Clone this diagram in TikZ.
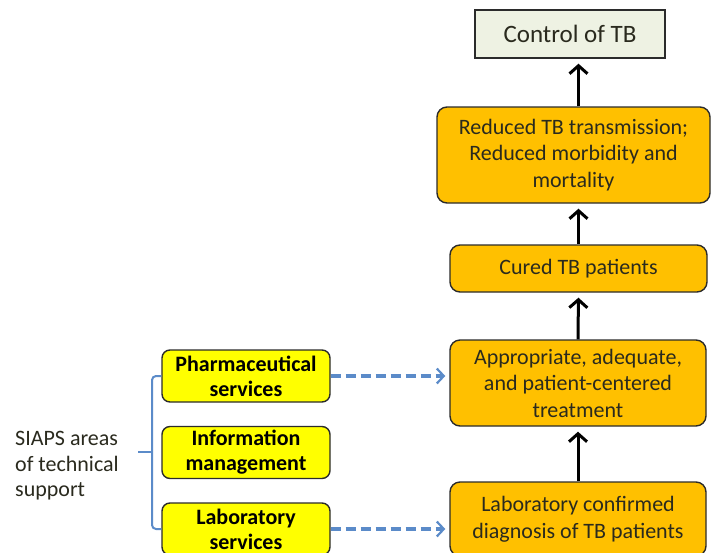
\documentclass[tikz,border=0pt]{standalone}
\usepackage{fontspec}
\setmainfont{Carlito}
\usetikzlibrary{arrows.meta}
\definecolor{orangebox}{HTML}{FFC000}
\definecolor{yellowbox}{HTML}{FFFF00}
\definecolor{goalfill}{HTML}{EEF2E3}
\definecolor{linkblue}{HTML}{5B8BC9}
\definecolor{edgegray}{HTML}{2B2B2B}
\definecolor{textdark}{HTML}{2A2A1E}
\tikzset{
  outcome/.style={draw=edgegray, line width=1.4pt, fill=orangebox, rounded corners=10pt,
    align=center, text=textdark, font=\fontsize{22}{26.5}\selectfont, inner sep=0pt},
  service/.style={draw=edgegray, line width=1.4pt, fill=yellowbox, rounded corners=8pt,
    align=center, text=black, font=\fontsize{22}{25}\selectfont\bfseries, inner sep=0pt,
    minimum width=168pt, minimum height=52pt},
  goal/.style={draw=edgegray, line width=1.4pt, fill=goalfill, text=textdark,
    font=\fontsize{25}{28}\selectfont, inner sep=0pt},
  uparrow/.style={line width=3pt, -{Straight Barb[length=8pt,width=18pt,line width=3pt]}, shorten >=5pt},
  dashlink/.style={linkblue, line width=3.4pt, dash pattern=on 10pt off 5pt,
    -{Straight Barb[length=7pt,width=15pt,line width=2.2pt]}, shorten >=4pt},
  bracket/.style={linkblue, line width=2pt, rounded corners=4pt}
}
\begin{document}
\begin{tikzpicture}[x=1pt,y=-1pt]
\useasboundingbox (0,0) rectangle (712,552);

% outcome chain
\node[goal, minimum width=190pt, minimum height=48pt] (ctrl) at (570,34) {Control of TB};
\node[outcome, minimum width=273pt, minimum height=96pt] (red) at (573.5,155)
  {Reduced TB transmission;\\Reduced morbidity and\\mortality};
\node[outcome, minimum width=257pt, minimum height=47pt] (cured) at (578.5,268.5) {Cured TB patients};
\node[outcome, minimum width=256pt, minimum height=86pt] (appr) at (578,383)
  {Appropriate, adequate,\\and patient-centered\\treatment};
\node[outcome, minimum width=256pt, minimum height=74pt] (labc) at (578,519)
  {Laboratory confirmed\\diagnosis of TB patients};

% technical support areas
\node[service] (pharm) at (246,376) {Pharmaceutical\\services};
\node[service] (info) at (246,452.5) {Information\\management};
\node[service] (labs) at (246,529) {Laboratory\\services};

\node[align=left, anchor=west, text=textdark, font=\fontsize{22}{25.5}\selectfont, inner sep=0pt]
  (siaps) at (15,466) {SIAPS areas\\of technical\\support};

% bracket grouping the support areas
\coordinate (bx) at (152,452);
\draw[bracket] (pharm.west) -- (pharm.west -| bx) -- (labs.west -| bx) -- (labs.west);
\draw[bracket] (bx) -- (138,452);

% causal arrows
\draw[uparrow] (labc.north) -- (appr.south);
\draw[uparrow] (appr.north) -- (cured.south);
\draw[uparrow] (cured.north) -- (cured.north |- red.south);
\draw[uparrow] (cured.north |- red.north) -- (cured.north |- ctrl.south);

% support links
\draw[dashlink] (pharm.east) -- (pharm.east -| appr.west);
\draw[dashlink] (labs.east) -- (labs.east -| labc.west);
\end{tikzpicture}
\end{document}
